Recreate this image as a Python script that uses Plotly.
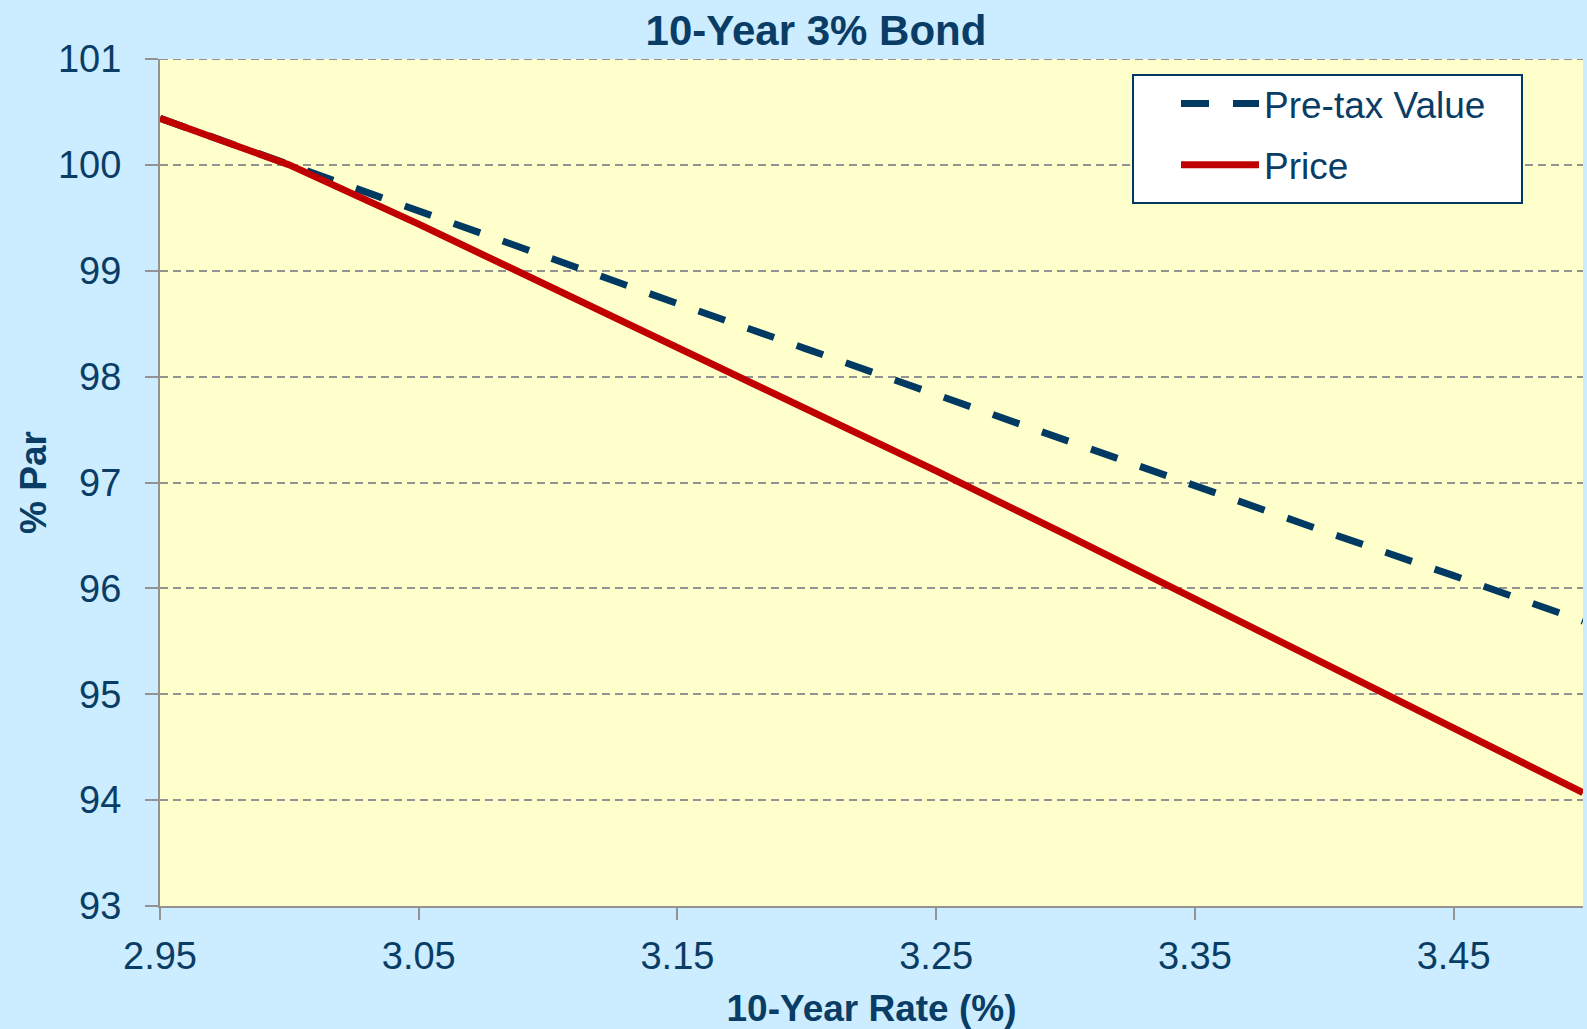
import plotly.graph_objects as go

# ---- data ----
rates = [2.95, 3.00, 3.05, 3.10, 3.15, 3.20, 3.25, 3.30, 3.35, 3.40, 3.45, 3.50]
pretax_value = [100.44, 100.00, 99.56, 99.12, 98.69, 98.26, 97.83, 97.39, 96.97, 96.54, 96.12, 95.69]
price = [100.44, 100.00, 99.44, 98.86, 98.28, 97.70, 97.11, 96.51, 95.90, 95.29, 94.68, 94.07]

x_ticks = [2.95, 3.05, 3.15, 3.25, 3.35, 3.45]
x_tick_labels = ["2.95", "3.05", "3.15", "3.25", "3.35", "3.45"]
y_ticks = [93, 94, 95, 96, 97, 98, 99, 100, 101]

NAVY = "#0A3D66"
LINE_NAVY = "#003A63"
RED = "#C00000"
GRID = "#939393"
FONT = "Liberation Sans Narrow, Arial Narrow, Liberation Sans, Arial, sans-serif"

W, H = 1587, 1029
L, R, T, B = 160, 4, 59, 123
PW, PH = W - L - R, H - T - B


def px_x(p):
    return (p - L) / PW


def px_y(p):
    return (H - B - p) / PH


fig = go.Figure()
fig.add_trace(go.Scatter(
    x=rates, y=pretax_value, mode="lines", name="Pre-tax Value", legendgroup="a",
    line=dict(color=LINE_NAVY, width=7, dash="28px,24px"),
))
fig.add_trace(go.Scatter(
    x=rates, y=price, mode="lines", name="Price", legendgroup="b",
    line=dict(color=RED, width=7),
))

# top gridline at the upper range bound (same style as the other gridlines)
fig.add_shape(
    type="line", xref="paper", yref="y",
    x0=0, x1=1, y0=y_ticks[-1], y1=y_ticks[-1],
    line=dict(color=GRID, width=2, dash="8px,5px"), layer="below",
)

# legend frame (box drawn as a shape so the padding matches the original)
fig.add_shape(
    type="rect", xref="paper", yref="paper",
    x0=px_x(1133), x1=px_x(1522), y0=px_y(203), y1=px_y(75),
    fillcolor="white", line=dict(color=LINE_NAVY, width=2), layer="above",
)

fig.update_layout(
    width=W, height=H,
    margin=dict(l=L, r=R, t=T, b=B, pad=0),
    paper_bgcolor="#CCECFF",
    plot_bgcolor="#FFFFCC",
    font=dict(family=FONT, color=NAVY, size=38),
    title=dict(
        text="<b>10-Year 3% Bond</b>",
        font=dict(family=FONT, size=42, color=NAVY),
        x=816 / W, xref="container", xanchor="center",
        y=1 - 30 / H, yref="container", yanchor="middle",
    ),
    showlegend=True,
    legend=dict(
        x=px_x(1176), y=px_y(73),
        xref="paper", yref="paper", xanchor="left", yanchor="top",
        bgcolor="rgba(0,0,0,0)", borderwidth=0,
        font=dict(family=FONT, size=37, color=NAVY),
        itemwidth=78, tracegroupgap=10,
    ),
    xaxis=dict(
        range=[2.95, 3.50], automargin=False,
        tickmode="array", tickvals=x_ticks, ticktext=x_tick_labels,
        showgrid=False, zeroline=False,
        showline=True, linecolor=GRID, linewidth=2,
        ticks="outside", ticklen=12, tickwidth=2, tickcolor=GRID,
        tickfont=dict(family=FONT, size=38, color=NAVY),
        ticklabelstandoff=3,
        title=dict(text="<b>10-Year Rate (%)</b>", font=dict(family=FONT, size=37, color=NAVY), standoff=20),
    ),
    yaxis=dict(
        range=[93, 101], automargin=False,
        tickmode="array", tickvals=y_ticks, ticktext=[str(v) for v in y_ticks],
        showgrid=True, gridcolor=GRID, gridwidth=2, griddash="8px,5px",
        zeroline=False,
        showline=True, linecolor=GRID, linewidth=2,
        ticks="outside", ticklen=13, tickwidth=2, tickcolor=GRID,
        tickfont=dict(family=FONT, size=38, color=NAVY),
        ticklabelstandoff=16,
        title=dict(text="<b>% Par</b>", font=dict(family=FONT, size=37, color=NAVY), standoff=0),
    ),
)

fig.write_html(
    "out.html",
    config={"displayModeBar": False},
    post_script="document.body.style.margin='0';document.body.style.padding='0';",
)
